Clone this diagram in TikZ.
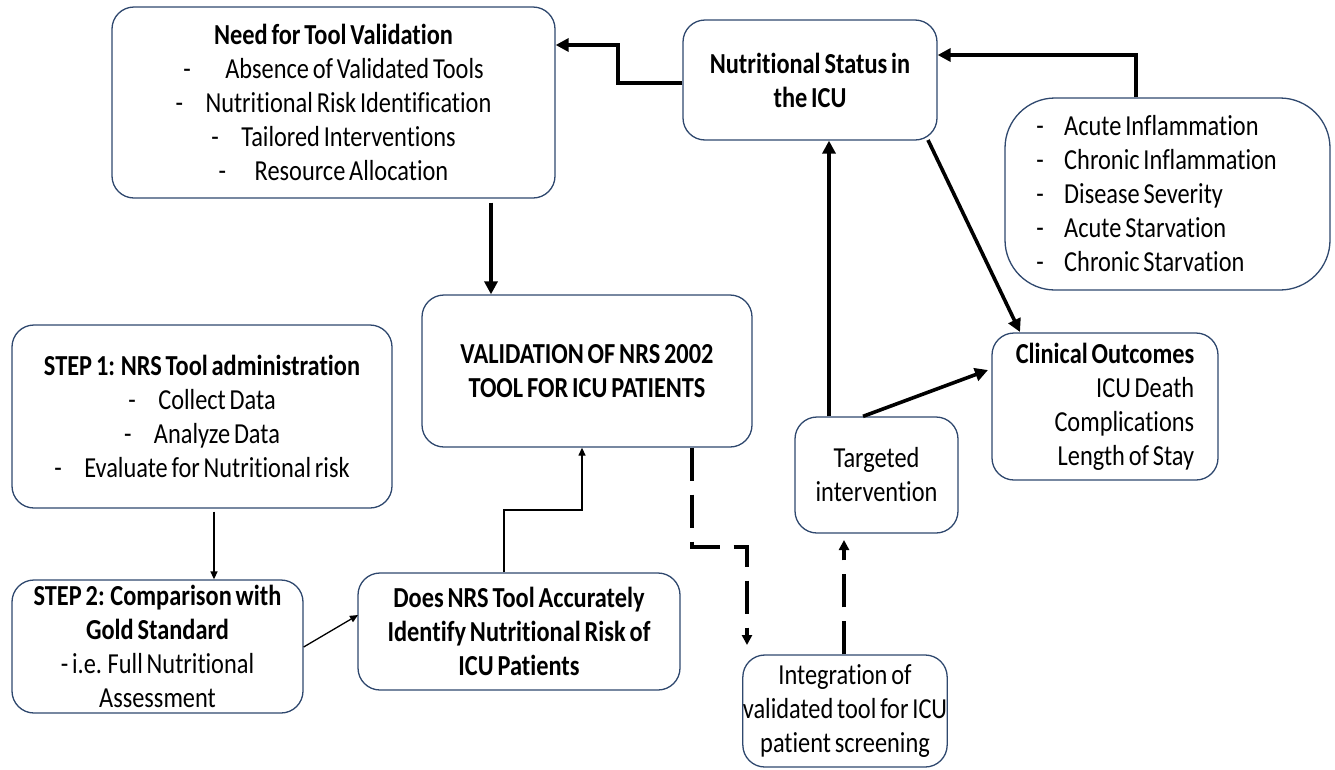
\documentclass[tikz,border=0pt]{standalone}
\usepackage{fontspec}
\setmainfont{Carlito}[FakeStretch=0.84, WordSpace=0.7, Ligatures=NoCommon]
\usetikzlibrary{arrows.meta}
\definecolor{boxline}{RGB}{47,72,110}
\tikzset{
  box/.style={draw=boxline, line width=1.3pt, rounded corners=22pt, fill=white,
    align=center, inner sep=0pt, font=\fontsize{29}{34}\selectfont},
  thickarrow/.style={line width=3.6pt, -{Triangle[length=13pt,width=13pt]}},
  thinarrow/.style={line width=1.3pt, -{Triangle[length=8pt,width=7pt]}},
  dasharrow/.style={line width=3.6pt, dash pattern=on 33pt off 14pt, -{Triangle[length=10pt,width=10pt]}},
}
\newcommand{\dsh}[1][30pt]{\makebox[#1][l]{-}}
\begin{document}
\begin{tikzpicture}[x=1pt,y=-1pt]
\useasboundingbox (0,0) rectangle (1335,769);
% boxes
\node[box, minimum width=443pt, minimum height=191pt] (need) at (333.5,102.5)
  {\textbf{Need for Tool Validation}\\ \dsh[42pt]Absence of Validated Tools\\ \dsh Nutritional Risk Identification\\ \dsh Tailored Interventions\\ \dsh[36pt]Resource Allocation};
\node[box, minimum width=254pt, minimum height=120pt] (nutr) at (810,80)
  {\textbf{Nutritional Status in}\\ \textbf{the ICU}};
\node[box, rounded corners=50pt, minimum width=325pt, minimum height=192pt, align=left] (fact) at (1167.5,194)
  {\dsh[28pt]Acute Inflammation\\ \dsh[28pt]Chronic Inflammation\rule{22pt}{0pt}\\ \dsh[28pt]Disease Severity\\ \dsh[28pt]Acute Starvation\\ \dsh[28pt]Chronic Starvation};
\node[box, minimum width=330pt, minimum height=152pt] (valid) at (587,371)
  {\textbf{VALIDATION OF NRS 2002}\\ \textbf{TOOL FOR ICU PATIENTS}};
\node[box, minimum width=380pt, minimum height=183pt] (step1) at (202,416.5)
  {\textbf{STEP 1: NRS Tool administration}\\ \dsh Collect Data\\ \dsh Analyze Data\\ \dsh Evaluate for Nutritional risk};
\node[box, minimum width=291pt, minimum height=133pt] (step2) at (157.5,646.5)
  {\textbf{STEP 2: Comparison with}\\ \textbf{Gold Standard}\\ - i.e. Full Nutritional\\ Assessment};
\node[box, minimum width=322pt, minimum height=117pt] (does) at (519,631.5)
  {\textbf{Does NRS Tool Accurately}\\ \textbf{Identify Nutritional Risk of}\\ \textbf{ICU Patients}};
\node[box, minimum width=163pt, minimum height=116pt] (target) at (876.5,475)
  {Targeted\\ intervention};
\node[box, minimum width=226pt, minimum height=147pt, align=right] (clin) at (1105,406.5)
  {\textbf{Clinical Outcomes}\\ ICU Death\\ Complications\\ Length of Stay};
\node[box, minimum width=182pt, minimum height=112pt] (integ) at (845,711)
  {Integration of\\ validated tool for ICU\\ patient screening};
% connectors
\draw[thickarrow] (nutr.west |- 0,83) -- (618,83) -- (618,45) -- (need.east |- 0,45);
\draw[thickarrow] (fact.north -| 1136,0) -- (1136,55) -- (nutr.east |- 0,55);
\draw[thickarrow] ([yshift=-4pt]need.south -| 491,0) -- (valid.north -| 491,0);
\draw[thickarrow] (target.north -| 829,0) -- (nutr.south -| 829,0);
\draw[thickarrow] (928,140) -- (1020,332);
\draw[thickarrow] (target.north -| 863,0) -- (988,370);
\draw[thinarrow] ([yshift=-3pt]step1.south -| 214,0) -- (step2.north -| 214,0);
\draw[thinarrow] (step2.east |- 0,647) -- (358,615);
\draw[thinarrow] (does.north -| 504,0) -- (504,510) -- (582,510) -- (valid.south -| 582,0);
\draw[dasharrow] (valid.south -| 692,0) -- (692,547) -- (747,547) -- (747,645);
\draw[dasharrow] (integ.north -| 844,0) -- (844,540);
\end{tikzpicture}
\end{document}
